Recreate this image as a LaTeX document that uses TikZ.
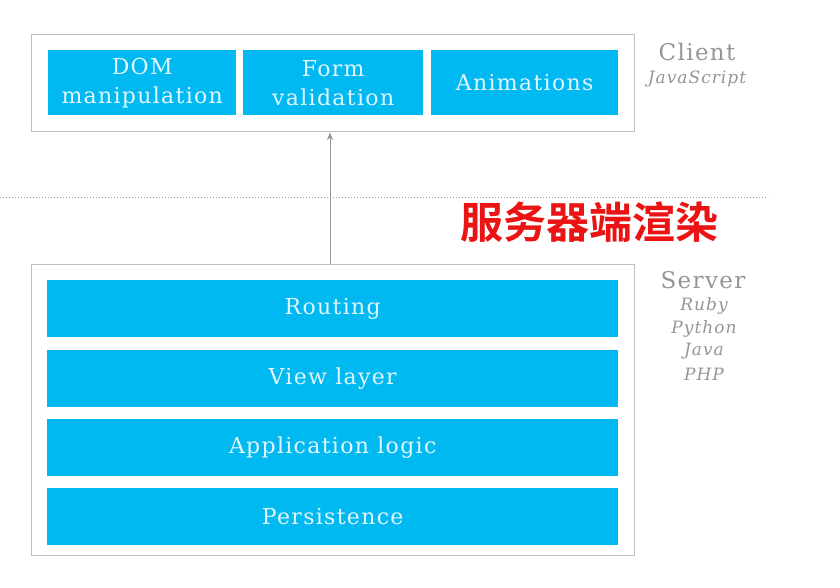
\documentclass[tikz,border=0pt]{standalone}
\usepackage{fontspec}
\setmainfont{DejaVu Serif}
\newfontfamily\slab[LetterSpace=6]{DejaVu Serif}
\newfontfamily\cjkbold{Noto Sans CJK SC Bold}
\usetikzlibrary{positioning, arrows.meta}
\definecolor{layerblue}{RGB}{0,185,241}
\definecolor{framegray}{RGB}{190,190,190}
\definecolor{labelgray}{RGB}{150,150,150}
\definecolor{layertext}{RGB}{225,246,255}
\definecolor{renderred}{RGB}{235,20,20}
\tikzset{
  frame/.style = {draw=framegray, line width=1.2pt, fill=white},
  layer/.style = {fill=layerblue, text=layertext, inner sep=0pt, align=center,
                  font=\slab\fontsize{22}{29}\selectfont},
  tier/.style = {text=labelgray, font=\slab\fontsize{23}{25}\selectfont, inner sep=0pt},
  lang/.style = {text=labelgray, font=\slab\fontsize{17}{19}\selectfont\itshape, inner sep=0pt},
  arrow/.style = {draw=labelgray, line width=1pt, -{Stealth[length=8pt, width=6pt]}},
}
\begin{document}
\begin{tikzpicture}[x=1pt, y=-1pt]
  \useasboundingbox (0,0) rectangle (840,587);
  \fill[white] (0,0) rectangle (840,587);

  % client side
  \node (client) [frame, minimum width=603pt, minimum height=97pt, anchor=north west] at (31,34) {};
  \node (dom) [layer, minimum width=188pt, minimum height=65pt, anchor=north west] at (48,50) {DOM\\manipulation};
  \node (form) [layer, minimum width=180pt, minimum height=65pt, anchor=north west] at (243,50) {Form\\validation};
  \node (anim) [layer, minimum width=187pt, minimum height=65pt, anchor=north west] at (431,50) {Animations};
  \node (clientlbl) [tier] at (697,52) {Client};
  \node (js) [lang] at (697,79) {JavaScript};

  % divider
  \coordinate (divl) at (0,197);
  \coordinate (divr) at (768,197);
  \draw[labelgray, line width=1pt, dotted] (divl) -- (divr);

  % server side
  \node (server) [frame, minimum width=603pt, minimum height=291pt, anchor=north west] at (31,264) {};
  \node (routing) [layer, minimum width=571pt, minimum height=57pt, anchor=north west] at (47,280) {Routing};
  \node (view) [layer, minimum width=571pt, minimum height=57pt, below=12pt of routing] {View layer};
  \node (app) [layer, minimum width=571pt, minimum height=57pt, below=12pt of view] {Application logic};
  \node (persist) [layer, minimum width=571pt, minimum height=57pt, below=12pt of app] {Persistence};
  \node (serverlbl) [tier] at (703,280) {Server};
  \node (ruby) [lang] at (704,306) {Ruby};
  \node (python) [lang] at (704,329) {Python};
  \node (java) [lang] at (704,351) {Java};
  \node (php) [lang] at (704,374) {PHP};

  \draw[arrow] (server.north -| 330,0) -- (client.south -| 330,0);

  % label
  \node (render) [text=renderred, font=\cjkbold\fontsize{43}{45}\selectfont] at (589,222) {服务器端渲染};
\end{tikzpicture}
\end{document}
